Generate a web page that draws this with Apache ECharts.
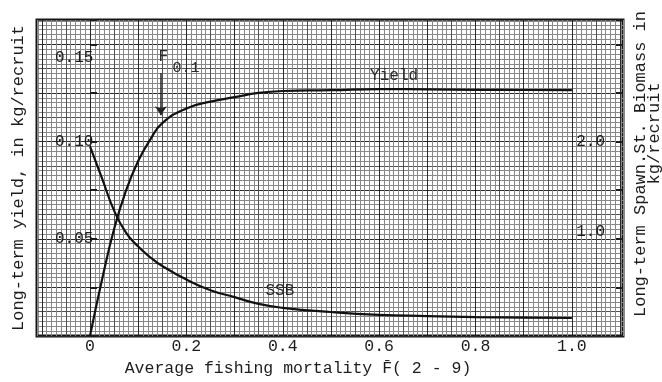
<!DOCTYPE html>
<html>
<head>
<meta charset="utf-8">
<script src="https://cdn.jsdelivr.net/npm/echarts@6/dist/echarts.min.js"></script>
<style>
  html, body { margin: 0; padding: 0; background: #ffffff; }
  #chart { width: 662px; height: 382px; }
</style>
</head>
<body>
<div id="chart"></div>
<script>
// Average fishing mortality F(2-9)
const fValues = [0, 0.025, 0.05, 0.075, 0.1, 0.125, 0.15, 0.2, 0.25, 0.3, 0.35, 0.4, 0.5, 0.6, 0.7, 0.8, 0.9, 1.0];
// Long-term yield, kg/recruit (left axis)
const yieldValues = [0, 0.029, 0.055, 0.075, 0.090, 0.101, 0.1095, 0.117, 0.1205, 0.1228, 0.125, 0.126, 0.1264, 0.127, 0.1268, 0.1266, 0.1265, 0.1264];
// Long-term spawning stock biomass, kg/recruit (right axis)
const ssbValues = [1.95, 1.62, 1.29, 1.06, 0.92, 0.81, 0.72, 0.58, 0.47, 0.40, 0.33, 0.29, 0.247, 0.218, 0.205, 0.195, 0.19, 0.185];

// tick labels
const xTicks = [0, 0.2, 0.4, 0.6, 0.8, 1.0];
const xTickText = ['0', '0.2', '0.4', '0.6', '0.8', '1.0'];
const yieldTicks = [0.05, 0.10, 0.15];
const yieldTickText = ['0.05', '0.10', '{low|0.15}'];
const ssbTicks = [1.0, 2.0];
const ssbTickText = ['{up|1.0}', '2.0'];

// F0.1 reference point and text annotations
const f01 = 0.147;
const f01Arrow = [0.1352, 0.1135];
const yieldLabelAt = [0.631, 0.1337];
const ssbLabelAt = [0.394, 0.463];
const fLabelAt = [0.152, 0.1434];
const fSubLabelAt = [0.199, 0.1378];

const FONT = "'Liberation Mono', 'DejaVu Sans Mono', monospace";
const INK = '#1c1c1c';

function pick(ticks, texts, v) {
  for (let i = 0; i < ticks.length; i++) {
    if (Math.abs(ticks[i] - v) < 1e-6) return texts[i];
  }
  return '';
}

// graph paper: every tenth rule dark, every fifth medium, the rest light
function paperColors(majorAt, midAt) {
  const arr = [];
  for (let i = 0; i < 10; i++) {
    arr.push(i === majorAt ? '#2a2a2a' : (i === midAt ? '#505050' : '#888888'));
  }
  return arr;
}

const XMIN = -0.11, XMAX = 1.106;
const YMAX = 0.1625, SMAX = 3.25;

const chart = echarts.init(document.getElementById('chart'), null, { renderer: 'canvas' });

const labelText = (size) => ({ fontFamily: FONT, fontSize: size, color: '#2a2a2a' });

chart.setOption({
  animation: false,
  backgroundColor: '#ffffff',
  grid: {
    left: 37, top: 20, width: 586, height: 316,
    outerBoundsMode: 'none', containLabel: false,
    show: true, borderColor: '#161616', borderWidth: 3, backgroundColor: 'transparent'
  },
  xAxis: [{
    type: 'value', min: XMIN, max: XMAX, interval: 0.01,
    axisLine: { show: false }, axisTick: { show: false },
    axisLabel: {
      interval: 0, margin: 2, fontFamily: FONT, fontSize: 16.5, color: INK,
      formatter: (v) => pick(xTicks, xTickText, v)
    },
    splitLine: { show: true, lineStyle: { width: 1, color: paperColors(1, 6) } },
    name: 'Average fishing mortality F\u0304( 2 - 9)',
    nameLocation: 'middle', nameGap: 22,
    nameTextStyle: { fontFamily: FONT, fontSize: 16.5, color: INK, padding: [0, 64, 0, 0] }
  }],
  yAxis: [{
    type: 'value', position: 'left', min: 0, max: YMAX, interval: 0.025,
    axisLine: { show: false },
    axisTick: { show: true, inside: true, length: 7, lineStyle: { color: INK, width: 2 } },
    axisLabel: {
      inside: true, margin: 18, fontFamily: FONT, fontSize: 16, color: INK,
      formatter: (v) => pick(yieldTicks, yieldTickText, v),
      rich: { low: { fontFamily: FONT, fontSize: 16, color: INK, padding: [26, 0, 0, 0] } }
    },
    splitLine: { show: false },
    name: 'Long-term yield, in kg/recruit',
    nameLocation: 'middle', nameRotate: 90, nameGap: 10,
    nameTextStyle: { fontFamily: FONT, fontSize: 17, color: INK }
  }, {
    type: 'value', position: 'left', min: 0, max: YMAX, interval: 0.0025,
    axisLine: { show: false }, axisTick: { show: false }, axisLabel: { show: false },
    splitLine: { show: true, lineStyle: { width: 1, color: paperColors(0, 5) } }
  }, {
    type: 'value', position: 'right', min: 0, max: SMAX, interval: 0.5,
    axisLine: { show: false },
    axisTick: { show: true, inside: true, length: 7, lineStyle: { color: INK, width: 2 } },
    axisLabel: {
      inside: true, margin: 18, fontFamily: FONT, fontSize: 16, color: INK,
      formatter: (v) => pick(ssbTicks, ssbTickText, v),
      rich: { up: { fontFamily: FONT, fontSize: 16, color: INK, padding: [0, 0, 14, 0] } }
    },
    splitLine: { show: false },
    name: 'Long-term Spawn.St. Biomass in\n             kg/recruit       ',
    nameLocation: 'middle', nameRotate: 90, nameGap: 10,
    nameTextStyle: { fontFamily: FONT, fontSize: 17, lineHeight: 14, color: INK, padding: [0, 0, 0, 28] }
  }],
  series: [{
    name: 'Yield', type: 'line', xAxisIndex: 0, yAxisIndex: 0,
    data: fValues.map((f, i) => [f, yieldValues[i]]),
    smooth: 0.5, showSymbol: false,
    lineStyle: { color: '#111111', width: 2.2 },
    markLine: {
      silent: true, symbol: ['none', 'arrow'], symbolSize: 9,
      lineStyle: { color: '#222222', width: 1.5, type: 'solid' },
      label: { show: false },
      data: [[{ coord: [f01, f01Arrow[0]] }, { coord: [f01, f01Arrow[1]] }]]
    },
    markPoint: {
      silent: true, symbol: 'circle', symbolSize: 0,
      label: { show: true, position: 'inside' },
      data: [
        { coord: yieldLabelAt, label: Object.assign({ formatter: 'Yield' }, labelText(16)) },
        { coord: fLabelAt, label: Object.assign({ formatter: 'F' }, labelText(16)) },
        { coord: fSubLabelAt, label: Object.assign({ formatter: '0.1' }, labelText(15)) }
      ]
    }
  }, {
    name: 'SSB', type: 'line', xAxisIndex: 0, yAxisIndex: 2,
    data: fValues.map((f, i) => [f, ssbValues[i]]),
    smooth: 0.5, showSymbol: false,
    lineStyle: { color: '#111111', width: 2.2 },
    markPoint: {
      silent: true, symbol: 'circle', symbolSize: 0,
      label: { show: true, position: 'inside' },
      data: [
        { coord: ssbLabelAt, label: Object.assign({ formatter: 'SSB' }, labelText(16)) }
      ]
    }
  }]
});
</script>
</body>
</html>
